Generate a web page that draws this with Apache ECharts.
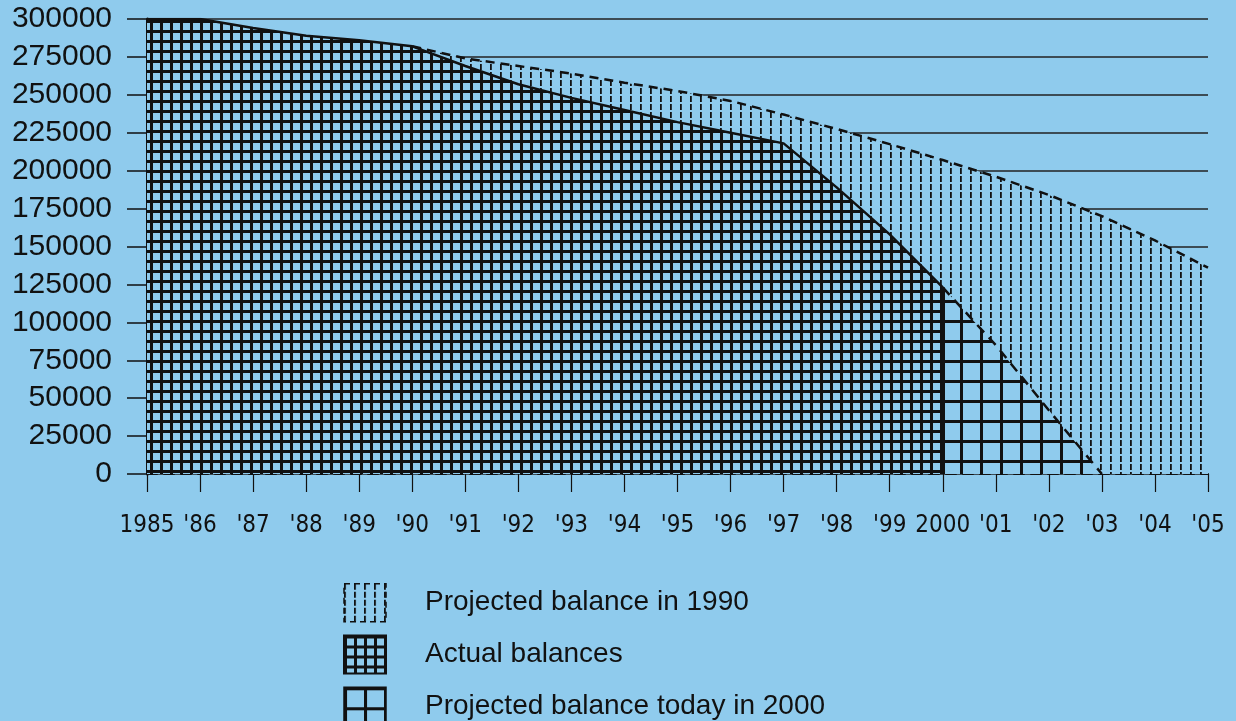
<!DOCTYPE html>
<html>
<head>
<meta charset="utf-8">
<title>Balances</title>
<script src="https://cdn.jsdelivr.net/npm/echarts@6/dist/echarts.min.js"></script>
<style>
	html, body {
		margin: 0;
		padding: 0;
		background: #8fcbed;
	}
	#chart {
		width: 1236px;
		height: 721px;
	}
</style>
</head>
<body>
<div id="chart"></div>
<script>
var years = ['1985', "'86", "'87", "'88", "'89", "'90", "'91", "'92", "'93", "'94", "'95", "'96", "'97", "'98", "'99", '2000', "'01", "'02", "'03", "'04", "'05"];
var actualBalances = [300000, 300000, 294000, 289000, 286000, 282000, 269000, 257000, 248000, 240000, 232000, 225000, 218000, 189000, 158000, 123000, null, null, null, null, null];
var projected1990 = [null, null, null, null, null, 282000, 274000, 269000, 264000, 258000, 252500, 246000, 237000, 227500, 217500, 207000, 196000, 184000, 170000, 154000, 136000];
var projected2000 = [null, null, null, null, null, null, null, null, null, null, null, null, null, null, null, 123000, 85000, 42000, 0, null, null];
var seriesNames = ['Projected balance in 1990', 'Actual balances', 'Projected balance today in 2000'];

var bg = '#8fcbed';
var ink = '#111111';

//生成填充图案
function makePattern(w, h, draw) {
	var c = document.createElement('canvas');
	c.width = w;
	c.height = h;
	var ctx = c.getContext('2d');
	ctx.fillStyle = bg;
	ctx.fillRect(0, 0, w, h);
	ctx.fillStyle = ink;
	draw(ctx);
	return { image: c, repeat: 'repeat' };
}

var fineGrid = makePattern(10, 10, function(ctx) {
	ctx.fillRect(0, 0, 10, 3);
	ctx.fillRect(0, 0, 3, 10);
});
var vHatch = makePattern(10, 8, function(ctx) {
	ctx.fillRect(0, 0, 1.8, 6);
});
var coarseGrid = makePattern(20, 20, function(ctx) {
	ctx.fillRect(0, 0, 20, 3);
	ctx.fillRect(0, 0, 3, 20);
});

function init() {
	var option = {
		backgroundColor: bg,
		animation: false,
		grid: {
			left: 147,
			right: 28,
			top: 19,
			bottom: 247
		},
		legend: {
			orient: 'vertical',
			left: 343,
			top: 583,
			height: 200,
			padding: 0,
			itemWidth: 42,
			itemHeight: 38,
			itemGap: 12,
			selectedMode: false,
			textStyle: {
				color: ink,
				fontFamily: 'Liberation Sans, Arial, sans-serif',
				fontSize: 28,
				padding: [0, 0, 0, 34]
			},
			data: [{
				name: seriesNames[0],
				icon: 'rect',
				itemStyle: { color: vHatch, borderColor: ink, borderWidth: 1.5, borderType: [6, 4] }
			}, {
				name: seriesNames[1],
				icon: 'rect',
				itemStyle: { color: fineGrid, borderColor: ink, borderWidth: 2 }
			}, {
				name: seriesNames[2],
				icon: 'rect',
				itemStyle: { color: coarseGrid, borderColor: ink, borderWidth: 1.5 }
			}]
		},
		xAxis: {
			type: 'category',
			data: years,
			boundaryGap: false,
			axisLine: {
				show: true,
				lineStyle: { color: ink, width: 2, type: [10, 7] }
			},
			axisTick: {
				show: true,
				inside: false,
				length: 18,
				alignWithLabel: true,
				lineStyle: { color: ink, width: 1.2 }
			},
			axisLabel: {
				interval: 0,
				margin: 40,
				color: ink,
				fontFamily: 'Liberation Sans Narrow, DejaVu Sans Condensed, sans-serif',
				fontSize: 24
			},
			splitLine: { show: false }
		},
		yAxis: {
			type: 'value',
			min: 0,
			max: 300000,
			interval: 25000,
			axisLine: {
				show: true,
				lineStyle: { color: ink, width: 3 }
			},
			axisTick: {
				show: true,
				length: 20,
				lineStyle: { color: ink, width: 1.5 }
			},
			axisLabel: {
				margin: 35,
				color: ink,
				fontFamily: 'Liberation Sans, Arial, sans-serif',
				fontSize: 30,
				formatter: function(v) {
					return String(v);
				}
			},
			splitLine: {
				show: true,
				lineStyle: { color: '#222222', width: 1.5 }
			}
		},
		series: [{
			name: seriesNames[0],
			type: 'line',
			data: projected1990,
			showSymbol: false,
			symbol: 'none',
			itemStyle: { color: vHatch },
			lineStyle: { color: ink, width: 2.5, type: [9, 6] },
			areaStyle: { color: vHatch, opacity: 1 }
		}, {
			name: seriesNames[1],
			type: 'line',
			data: actualBalances,
			showSymbol: false,
			symbol: 'none',
			itemStyle: { color: fineGrid },
			lineStyle: { color: ink, width: 2.5 },
			areaStyle: { color: fineGrid, opacity: 1 },
			//2000年处的竖边
			markLine: {
				silent: true,
				symbol: 'none',
				label: { show: false },
				lineStyle: { color: ink, width: 3, type: 'solid' },
				data: [[
					{ coord: [years[15], 0] },
					{ coord: [years[15], actualBalances[15]] }
				]]
			}
		}, {
			name: seriesNames[2],
			type: 'line',
			data: projected2000,
			showSymbol: false,
			symbol: 'none',
			itemStyle: { color: coarseGrid },
			lineStyle: { color: ink, width: 2.5, type: [10, 7] },
			areaStyle: { color: coarseGrid, opacity: 1 }
		}]
	};
	var chart = echarts.init(document.getElementById('chart'));
	chart.setOption(option);
}

init();
</script>
</body>
</html>
